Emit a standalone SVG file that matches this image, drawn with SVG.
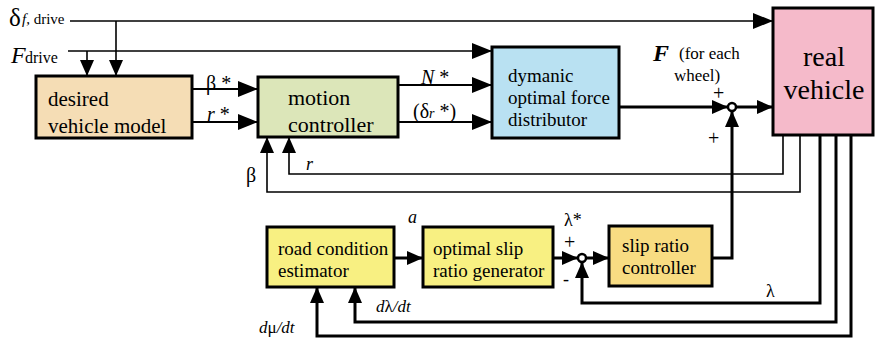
<svg xmlns="http://www.w3.org/2000/svg" width="875" height="339" viewBox="0 0 875 339">
<style>
.box{stroke:#000;stroke-width:3}
text{font-family:"Liberation Serif","Times New Roman",serif;fill:#000}
.thin{fill:none;stroke:#000;stroke-width:1.6}
.mid{fill:none;stroke:#000;stroke-width:2}
.thick{fill:none;stroke:#000;stroke-width:3}
</style>
<defs>
<marker id="a" markerUnits="userSpaceOnUse" markerWidth="20" markerHeight="16" viewBox="0 0 20 16" refX="20" refY="8" orient="auto">
<path d="M0,0 L20,8 L0,16 z" fill="#000"/>
</marker>
<marker id="s" markerUnits="userSpaceOnUse" markerWidth="16" markerHeight="14" viewBox="0 0 16 14" refX="16" refY="7" orient="auto">
<path d="M0,0 L16,7 L0,14 z" fill="#000"/>
</marker>
</defs>
<rect width="875" height="339" fill="#fff"/>

<g id="connectors">
<path class="thin" d="M70,21 H773" marker-end="url(#a)"/>
<path class="thin" d="M116,21 V76" marker-end="url(#s)"/>
<path class="thin" d="M68,51 H492" marker-end="url(#a)"/>
<path class="thin" d="M87,51 V76" marker-end="url(#s)"/>
<path class="mid" d="M192,89 H258" marker-end="url(#a)"/>
<path class="mid" d="M192,122 H258" marker-end="url(#a)"/>
<path class="mid" d="M398,85 H492" marker-end="url(#a)"/>
<path class="mid" d="M398,122 H492" marker-end="url(#a)"/>
<path class="thick" d="M619,107 H728" marker-end="url(#s)"/>
<path class="thick" d="M736,107 H773" marker-end="url(#s)"/>
<path class="thick" d="M712,258 H732 V111" marker-end="url(#s)"/>
<path class="thin" d="M783,135 V174 H289 V137" marker-end="url(#s)"/>
<path class="thin" d="M800,135 V192 H267 V137" marker-end="url(#s)"/>
<path class="thick" d="M820,135 V303 H582 V262" marker-end="url(#s)"/>
<path class="thick" d="M836,135 V322 H355 V287" marker-end="url(#s)"/>
<path class="thick" d="M851,135 V336 H317 V287" marker-end="url(#s)"/>
<path class="thick" d="M394,258 H423" marker-end="url(#s)"/>
<path class="thick" d="M553,258 H578" marker-end="url(#s)"/>
<path class="thick" d="M586,258 H609" marker-end="url(#s)"/>
<circle cx="732" cy="107" r="4" fill="#fff" stroke="#000" stroke-width="2.5"/>
<circle cx="582" cy="258" r="4" fill="#fff" stroke="#000" stroke-width="2.5"/>
</g>

<g id="desired">
<rect class="box" x="36" y="76" width="156" height="62" fill="#F5DDB5"/>
<text x="48" y="106" font-size="21">desired</text>
<text x="48" y="133" font-size="21">vehicle model</text>
</g>
<g id="motion">
<rect class="box" x="258" y="77" width="140" height="60" fill="#DCE6B9"/>
<text x="288" y="105" font-size="22">motion</text>
<text x="288" y="132" font-size="22">controller</text>
</g>
<g id="distributor">
<rect class="box" x="492" y="47" width="127" height="91" fill="#B9E1F2"/>
<text x="508" y="82" font-size="19">dymanic</text>
<text x="508" y="104" font-size="19">optimal force</text>
<text x="508" y="126" font-size="19">distributor</text>
</g>
<g id="real">
<rect class="box" x="773" y="8" width="100" height="127" fill="#F5BACA"/>
<text x="824" y="66" font-size="28" text-anchor="middle">real</text>
<text x="824" y="99" font-size="28" text-anchor="middle">vehicle</text>
</g>
<g id="road">
<rect class="box" x="267" y="227" width="127" height="60" fill="#F8F082"/>
<text x="278" y="255" font-size="19">road condition</text>
<text x="278" y="277" font-size="19">estimator</text>
</g>
<g id="optimal">
<rect class="box" x="423" y="227" width="130" height="60" fill="#F8F082"/>
<text x="433" y="255" font-size="19">optimal slip</text>
<text x="433" y="277" font-size="19">ratio generator</text>
</g>
<g id="slip">
<rect class="box" x="609" y="226" width="103" height="60" fill="#F8DC82"/>
<text x="622" y="252" font-size="19">slip ratio</text>
<text x="622" y="274" font-size="19">controller</text>
</g>

<g id="labels">
<text x="9" y="26" font-size="25">δ</text>
<text x="22" y="24" font-size="15"><tspan font-style="italic">f,</tspan> drive</text>
<text x="11" y="63" font-size="24" font-style="italic">F</text>
<text x="25" y="63" font-size="16">drive</text>
<text x="206" y="90" font-size="20">β *</text>
<text x="207" y="121" font-size="20"><tspan font-style="italic">r</tspan> *</text>
<text x="421" y="84" font-size="20"><tspan font-style="italic">N</tspan> *</text>
<text x="413" y="118" font-size="20">(δ<tspan font-size="14" font-style="italic">r</tspan> *)</text>
<text x="246" y="182" font-size="20">β</text>
<text x="306" y="170" font-size="18" font-style="italic">r</text>
<text x="653" y="61" font-size="24" font-style="italic" font-weight="bold">F</text>
<text x="679" y="59" font-size="17">(for each</text>
<text x="674" y="81" font-size="17">wheel)</text>
<text x="713" y="100" font-size="20">+</text>
<text x="708" y="145" font-size="20">+</text>
<text x="408" y="223" font-size="18" font-style="italic">a</text>
<text x="564" y="226" font-size="18">λ*</text>
<text x="564" y="249" font-size="20">+</text>
<text x="563" y="285" font-size="18">-</text>
<text x="766" y="297" font-size="18">λ</text>
<text x="376" y="312" font-size="17" font-style="italic">d<tspan font-style="normal">λ</tspan>/dt</text>
<text x="259" y="333" font-size="17" font-style="italic">d<tspan font-style="normal">μ</tspan>/dt</text>
</g>
</svg>
